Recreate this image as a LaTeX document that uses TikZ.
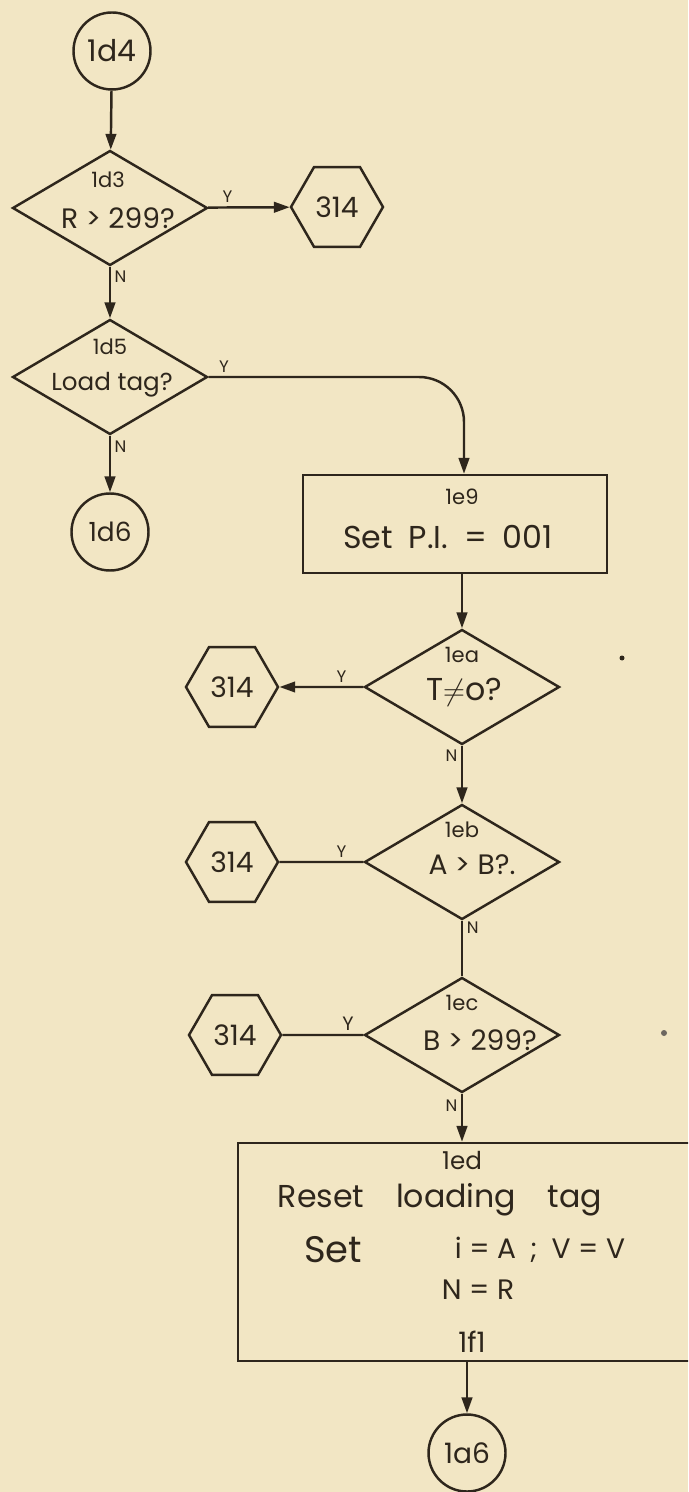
\documentclass[tikz,border=0pt]{standalone}
\usepackage{fontspec}
\setmainfont{Poppins}
\usetikzlibrary{arrows.meta,shapes.geometric}

\definecolor{paper}{RGB}{242,230,196}
\definecolor{ink}{RGB}{46,38,28}
\newcommand{\txtsize}[1]{\fontsize{#1}{1.15\dimexpr#1pt\relax}\selectfont}

\begin{document}
\begin{tikzpicture}[x=0.2mm,y=-0.2mm,line width=1.4pt,color=ink,
    flow/.style={-{Triangle[length=9pt,width=6pt]}},
    conn/.style={circle,draw,minimum size=15.4mm,inner sep=0pt,font=\txtsize{17}},
    exit/.style={regular polygon,regular polygon sides=6,draw,minimum size=18.4mm,inner sep=0pt,font=\txtsize{16}},
    decide/.style={diamond,draw,minimum width=39mm,minimum height=23mm,inner sep=0pt},
    proc/.style={rectangle,draw,inner sep=0pt},
    ask/.style={font=\txtsize{16},inner sep=1pt},
    yn/.style={font=\txtsize{9.5},inner sep=2pt},
    tag/.style={font=\txtsize{12},inner sep=1pt}]
    % sheet
    \fill[paper] (0,0) rectangle (688,1492);
    \useasboundingbox (0,0) rectangle (688,1492);
    \clip (0,0) rectangle (688,1492);

    % left column
    \node[conn] (c1d4) at (112,51) {1d4};
    \node[decide] (d1d3) at (110,208) {};
    \node[tag] (l1d3) at (108,180) {1d3};
    \node[ask] (q1d3) at (118,218) {R > 299?};
    \node[exit] (x1) at (337,207) {314};
    \node[decide] (d1d5) at (110,377) {};
    \node[tag] (l1d5) at (110,347) {1d5};
    \node[ask,font=\txtsize{14}] (q1d5) at (112,385) {Load tag?};
    \node[conn,font=\txtsize{15}] (c1d6) at (110,532) {1d6};

    % right column
    \node[proc,minimum width=60.8mm,minimum height=19.6mm] (b1e9) at (455,524) {};
    \node[tag] (t1e9) at (462,497) {1e9};
    \node[font=\txtsize{18}] (tpi) at (448,537) {Set\enspace P.I.\enspace=\enspace 001};
    \node[decide] (d1ea) at (462,687) {};
    \node[tag] (l1ea) at (462,655) {1ea};
    \node[ask,font=\txtsize{18}] (q1ea) at (464,692) {T$\neq$o?};
    \node[exit] (x2) at (232,687) {314};
    \node[decide] (d1eb) at (462,862) {};
    \node[tag] (l1eb) at (462,830) {1eb};
    \node[ask] (q1eb) at (472,865) {A > B?.};
    \node[exit] (x3) at (232,862) {314};
    \node[decide] (d1ec) at (462,1035) {};
    \node[tag] (l1ec) at (462,1003) {1ec};
    \node[ask] (q1ec) at (480,1040) {B > 299?};
    \node[exit] (x4) at (235,1035) {314};

    % last box runs off the sheet
    \node[proc,minimum width=96.4mm,minimum height=43.6mm] (b1ed) at (479,1252) {};
    \node[font=\txtsize{14}] (t1ed) at (462,1160) {1ed};
    \node[font=\txtsize{18}] (treset) at (440,1200) {Reset\quad loading\quad tag};
    \node[font=\txtsize{21}] (tset) at (333,1250) {Set};
    \node[font=\txtsize{16}] (tiav) at (540,1250) {i = A\enspace;\enspace V = V};
    \node[font=\txtsize{16}] (tnr) at (478,1290) {N = R};
    \node[font=\txtsize{16}] (t1f1) at (472,1342) {1f1};
    \node[conn,font=\txtsize{16}] (c1a6) at (467,1453) {1a6};

    % connectors
    \draw[flow] (c1d4) -- (d1d3);
    \draw[flow] (d1d3) -- (x1) node[yn,pos=.24,above] {Y};
    \draw[flow] (d1d3) -- (d1d5) node[yn,pos=.2,right] {N};
    \draw[flow,rounded corners=9mm] (d1d5.east) -| ([xshift=1.8mm]b1e9.north)
        node[yn,pos=.03,above] {Y};
    \draw[flow] (d1d5) -- (c1d6) node[yn,pos=.2,right] {N};
    \draw[flow] (b1e9.south -| d1ea.center) -- (d1ea);
    \draw[flow] (d1ea) -- (x2) node[yn,pos=.26,above] {Y};
    \draw[flow] (d1ea) -- (d1eb) node[yn,pos=.18,left] {N};
    \draw (d1eb) -- (x3) node[yn,pos=.26,above] {Y};
    \draw (d1eb) -- (d1ec) node[yn,pos=.12,right] {N};
    \draw (d1ec) -- (x4) node[yn,pos=.19,above,font=\txtsize{11}] {Y};
    \draw[flow] (d1ec) -- (b1ed.north -| d1ec.center) node[yn,pos=.25,left] {N};
    \draw[flow] (b1ed.south -| c1a6.center) -- (c1a6);

    % specks
    \fill (622,658) circle (0.5mm);
    \fill[ink!70] (664,1033) circle (0.6mm);
\end{tikzpicture}
\end{document}
